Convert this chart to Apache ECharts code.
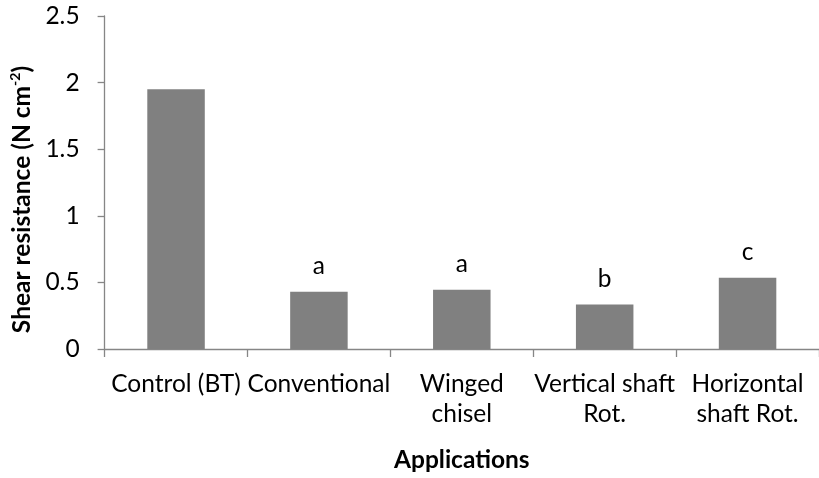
<!DOCTYPE html>
<html>
<head>
<meta charset="utf-8">
<script src="https://cdn.jsdelivr.net/npm/echarts@6/dist/echarts.min.js"></script>
<style>
html,body{margin:0;padding:0;background:#fff;}
#chart{width:819px;height:478px;}
</style>
</head>
<body>
<div id="chart"></div>
<script>
var categories = ['Control (BT)', 'Conventional', 'Winged\nchisel', 'Vertical shaft\nRot.', 'Horizontal\nshaft Rot.'];
var shearValues = [1.95, 0.43, 0.445, 0.335, 0.535];
var letters = ['', 'a', 'a', 'b', 'c'];
var yTicks = { min: 0, max: 2.5, interval: 0.5 };

var FONT = 'Lato';
var chart = echarts.init(document.getElementById('chart'), null, { renderer: 'canvas' });
chart.setOption({
  animation: false,
  backgroundColor: '#ffffff',
  grid: { left: 104.5, top: 16, width: 725, height: 336.7, containLabel: false },
  xAxis: {
    type: 'category',
    data: categories,
    name: 'Applications',
    nameLocation: 'middle',
    nameGap: 99,
    nameTextStyle: { fontFamily: FONT, fontSize: 24.5, fontWeight: 'bold', color: '#000' },
    axisLine: { lineStyle: { color: '#868686', width: 1.3 } },
    axisTick: { show: true, length: 8, alignWithLabel: false, lineStyle: { color: '#868686', width: 1.3 } },
    axisLabel: { interval: 0, margin: 20, fontFamily: FONT, fontSize: 24.5, lineHeight: 30, color: '#000' },
    splitLine: { show: false }
  },
  yAxis: {
    type: 'value',
    min: yTicks.min, max: yTicks.max, interval: yTicks.interval,
    name: '{t|Shear resistance (N cm}{s|-2}{t|)}',
    nameLocation: 'middle',
    nameRotate: 90,
    nameGap: 67,
    nameTextStyle: {
      padding: [0, 34, 0, 0],
      rich: {
        t: { fontFamily: FONT, fontSize: 24.5, fontWeight: 'bold', color: '#000', lineHeight: 28 },
        s: { fontFamily: FONT, fontSize: 14, fontWeight: 'bold', color: '#000', verticalAlign: 'top', lineHeight: 28 }
      }
    },
    axisLine: { show: true, lineStyle: { color: '#868686', width: 1.3 } },
    axisTick: { show: true, length: 7, inside: false, lineStyle: { color: '#868686', width: 1.3 } },
    axisLabel: { margin: 25, fontFamily: FONT, fontSize: 24.5, color: '#000', formatter: function (v) { return String(v); } },
    splitLine: { show: false }
  },
  series: [{
    type: 'bar',
    data: shearValues,
    barWidth: 57.5,
    itemStyle: { color: '#808080' },
    label: {
      show: true,
      position: 'top',
      distance: 13,
      fontFamily: FONT,
      fontSize: 24.5,
      color: '#000',
      formatter: function (p) { return letters[p.dataIndex]; }
    }
  }]
});
</script>
</body>
</html>
